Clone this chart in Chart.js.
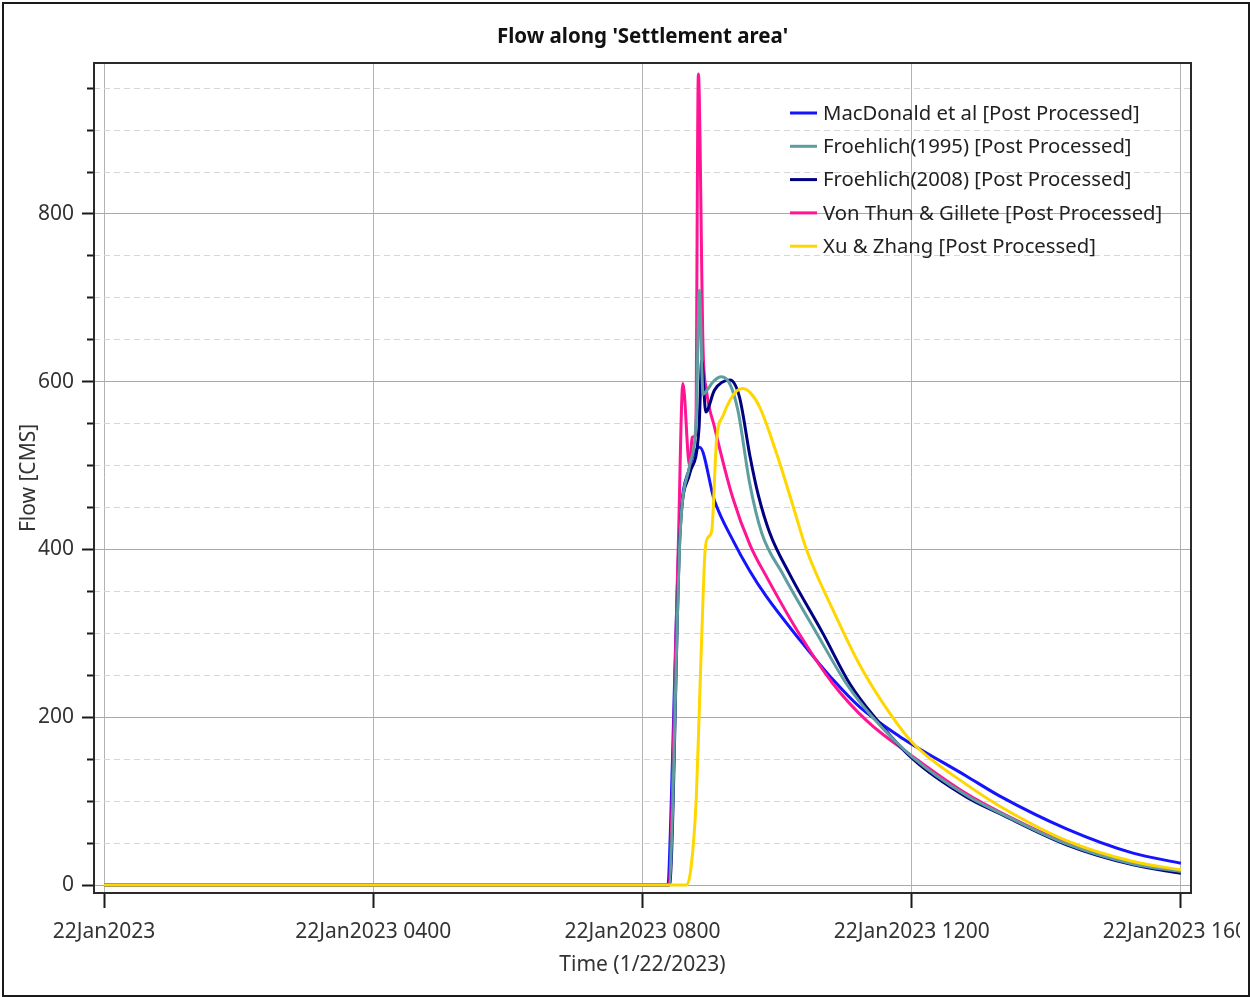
<!DOCTYPE html>
<html lang="en">
<head>
<meta charset="UTF-8" />
<title>Flow along 'Settlement area'</title>
<script src="https://cdn.jsdelivr.net/npm/chart.js@4.4.1/dist/chart.umd.min.js"></script>
<style>
  body { margin: 0; background: #fff; }
  .frame {
    position: absolute;
    left: 2px;
    top: 2px;
    width: 1244px;
    height: 991px;
    border: 2px solid #1a1a1a;
    background: #fff;
    overflow: hidden;
  }
  canvas { display: block; }
</style>
</head>
<body>
<div class="frame"><canvas id="flowChart" width="1236" height="991"></canvas></div>
<script>
  // axis ticks (x in hours after 22Jan2023 0000)
  const xTickHours = [0, 4, 8, 12, 16];
  const xTickLabels = ["22Jan2023", "22Jan2023 0400", "22Jan2023 0800", "22Jan2023 1200", "22Jan2023 1600"];
  const yMajorTicks = [0, 200, 400, 600, 800];
  const yMinorTicks = [50, 100, 150, 250, 300, 350, 450, 500, 550, 650, 700, 750, 850, 900, 950];

  // breach outflow hydrographs, flow in CMS
  const macdonaldHours = [0, 8.36, 8.55, 8.70, 8.85, 9.07, 9.35, 9.59, 9.84, 10.34, 10.84, 11.23, 11.82, 12.02, 12.81, 13.31, 14.30, 15.29, 16];
  const macdonaldFlow  = [0, 0, 420, 498, 522, 458, 410, 375, 344, 292, 244, 212, 177, 167, 130, 106, 67, 38, 26];

  const froehlich95Hours = [0, 8.39, 8.56, 8.70, 8.80, 8.845, 8.90, 8.96, 9.05, 9.17, 9.30, 9.42, 9.59, 9.77, 10.09, 10.59, 11.03, 11.42, 12.02, 12.81, 13.31, 14.30, 15.29, 16];
  const froehlich95Flow  = [0, 0, 420, 500, 560, 709, 585, 590, 600, 606, 597, 565, 480, 420, 370, 300, 240, 200, 152, 107, 86, 49, 25, 16];

  const froehlich08Hours = [0, 8.40, 8.56, 8.70, 8.84, 8.88, 8.94, 9.07, 9.30, 9.44, 9.60, 9.72, 9.89, 10.19, 10.68, 11.08, 11.45, 12.02, 12.81, 13.31, 14.30, 15.29, 16];
  const froehlich08Flow  = [0, 0, 423, 490, 545, 626, 564, 590, 602, 582, 510, 465, 420, 370, 300, 240, 200, 150, 105, 85, 48, 24, 14];

  const vonThunHours = [0, 8.38, 8.53, 8.60, 8.70, 8.74, 8.79, 8.83, 8.90, 8.95, 9.07, 9.34, 9.60, 9.84, 10.34, 10.83, 11.33, 12.02, 12.81, 13.31, 14.30, 15.29, 16];
  const vonThunFlow  = [0, 0, 399, 598, 499, 534, 536, 967, 640, 590, 546, 462, 405, 368, 298, 240, 196, 153, 109, 87, 50, 26, 17];

  const xuZhangHours = [0, 8.65, 8.72, 8.80, 8.85, 8.90, 8.93, 8.98, 9.03, 9.10, 9.20, 9.30, 9.40, 9.49, 9.60, 9.74, 9.99, 10.24, 10.44, 10.83, 11.23, 11.63, 12.02, 12.81, 13.31, 14.30, 15.29, 16];
  const xuZhangFlow  = [0, 0, 20, 105, 224, 343, 399, 415, 423, 530, 560, 578, 589, 592, 587, 570, 515, 451, 399, 328, 262, 210, 169, 120, 94, 53, 28, 18];

  const FONT = "'Noto Sans', sans-serif";

  const toPoints = (hours, flow) => hours.map((h, i) => ({ x: h, y: flow[i] }));

  function line(label, hours, flow, color, order) {
    return {
      label: label,
      data: toPoints(hours, flow),
      borderColor: color,
      backgroundColor: color,
      borderWidth: 3,
      pointRadius: 0,
      tension: 0.4,
      cubicInterpolationMode: "monotone",
      order: order
    };
  }

  // legend drawn inside the plot, top right
  const legendBox = {
    id: "legendBox",
    afterDatasetsDraw(chart) {
      const ctx = chart.ctx;
      const x0 = 786, y0 = 109, rowGap = 33.3;
      ctx.save();
      ctx.font = "20.3px " + FONT;
      ctx.textBaseline = "middle";
      ctx.fillStyle = "#222";
      chart.data.datasets.forEach((ds, i) => {
        const y = y0 + i * rowGap;
        ctx.strokeStyle = ds.borderColor;
        ctx.lineWidth = 3;
        ctx.beginPath();
        ctx.moveTo(x0, y);
        ctx.lineTo(x0 + 27, y);
        ctx.stroke();
        ctx.fillText(ds.label, x0 + 33, y + 1);
      });
      ctx.restore();
    }
  };

  // centre the title over the plot area and box the plot
  const plotFrame = {
    id: "plotFrame",
    afterLayout(chart) {
      if (chart.titleBlock) {
        chart.titleBlock.left = chart.chartArea.left;
        chart.titleBlock.right = chart.chartArea.right;
      }
    },
    afterDraw(chart) {
      const a = chart.chartArea;
      const ctx = chart.ctx;
      ctx.save();
      ctx.strokeStyle = "#2a2a2a";
      ctx.lineWidth = 2;
      ctx.strokeRect(a.left, a.top, a.right - a.left, a.bottom - a.top);
      ctx.restore();
    }
  };

  new Chart(document.getElementById("flowChart"), {
    type: "line",
    data: {
      datasets: [
        line("MacDonald et al [Post Processed]", macdonaldHours, macdonaldFlow, "#1414ff", 5),
        line("Froehlich(1995) [Post Processed]", froehlich95Hours, froehlich95Flow, "#5f9ea0", 2),
        line("Froehlich(2008) [Post Processed]", froehlich08Hours, froehlich08Flow, "#000080", 3),
        line("Von Thun & Gillete [Post Processed]", vonThunHours, vonThunFlow, "#ff1493", 4),
        line("Xu & Zhang [Post Processed]", xuZhangHours, xuZhangFlow, "#ffd700", 1)
      ]
    },
    options: {
      responsive: false,
      animation: false,
      layout: { padding: { left: 0, top: 0, right: 49, bottom: 0 } },
      plugins: {
        legend: { display: false },
        tooltip: { enabled: false },
        title: {
          display: true,
          text: "Flow along 'Settlement area'",
          color: "#111",
          font: { family: FONT, size: 20.5, weight: "bold" },
          padding: { top: 20.8, bottom: 13.6 }
        }
      },
      scales: {
        x: {
          type: "linear",
          min: -0.15,
          max: 16.15,
          afterBuildTicks: (s) => { s.ticks = xTickHours.map((v) => ({ value: v })); },
          afterFit: (s) => { s.height = 102; s.paddingLeft = 0; s.paddingRight = 0; },
          ticks: {
            autoSkip: false,
            maxRotation: 0,
            padding: 11,
            color: "#333",
            font: { family: FONT, size: 21 },
            callback: (v, i) => xTickLabels[i]
          },
          grid: { color: "#b4b4b4", lineWidth: 1, tickLength: 15, tickColor: "#1a1a1a", tickWidth: 2 },
          border: { color: "#1a1a1a", width: 2 },
          title: {
            display: true,
            text: "Time (1/22/2023)",
            color: "#333",
            font: { family: FONT, size: 21 },
            padding: { top: 0, bottom: 17 }
          }
        },
        y: {
          type: "linear",
          position: "left",
          weight: 1,
          min: -9.5,
          max: 980,
          afterBuildTicks: (s) => { s.ticks = yMajorTicks.map((v) => ({ value: v })); },
          afterFit: (s) => { s.width = 90; s.paddingTop = 0; s.paddingBottom = 0; },
          ticks: { padding: 8, color: "#333", font: { family: FONT, size: 21 } },
          grid: { color: "#a8a8a8", lineWidth: 1, tickLength: 12, tickColor: "#1a1a1a", tickWidth: 2 },
          border: { color: "#1a1a1a", width: 2 },
          title: {
            display: true,
            text: "Flow [CMS]",
            color: "#333",
            font: { family: FONT, size: 21 },
            padding: { top: 12, bottom: 0 }
          }
        },
        yMinor: {
          type: "linear",
          position: "left",
          weight: 0,
          min: -9.5,
          max: 980,
          afterBuildTicks: (s) => { s.ticks = yMinorTicks.map((v) => ({ value: v })); },
          afterFit: (s) => { s.width = 0; s.paddingTop = 0; s.paddingBottom = 0; },
          ticks: { display: false },
          grid: { color: "#d6d6d6", lineWidth: 1, tickLength: 7, tickColor: "#1a1a1a", tickWidth: 2 },
          border: { display: false, dash: [6, 4] }
        }
      }
    },
    plugins: [legendBox, plotFrame]
  });
</script>
</body>
</html>
